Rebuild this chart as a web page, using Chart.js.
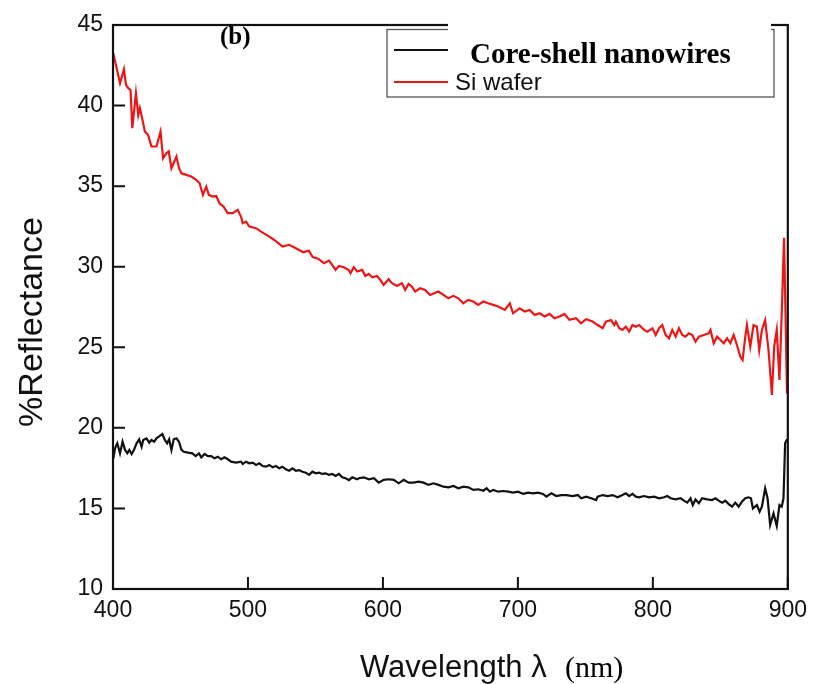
<!DOCTYPE html>
<html><head><meta charset="utf-8">
<script src="https://cdn.jsdelivr.net/npm/chart.js@4/dist/chart.umd.min.js"></script>
<style>html,body{margin:0;padding:0;background:#fff}canvas{display:block}</style>
</head><body>
<canvas id="c" width="815" height="684" style="width:815px;height:684px"></canvas>
<script>
const xTicks = [400, 500, 600, 700, 800, 900];
const yTicks = [10, 15, 20, 25, 30, 35, 40, 45];
const seriesNames = ['Core-shell nanowires', 'Si wafer'];
const panelLabel = '(b)';
const yTitle = '%Reflectance';
const xTitleMain = 'Wavelength \u03bb';
const xTitleUnit = '(nm)';

const redWl = [400.2,402.7,405.2,408.1,409.6,411.3,413.0,414.3,417.0,418.7,419.9,421.6,423.6,426.0,428.5,432.2,435.2,437.1,439.6,441.3,443.3,447.0,448.9,450.7,454.3,458.0,461.7,464.2,466.6,469.1,471.0,474.0,476.5,478.9,481.9,485.0,488.7,492.4,494.9,496.1,498.6,501.0,506.0,509.7,515.8,519.5,525.6,530.5,535.5,541.0,545.0,548.0,552.0,
556.3,560.0,562.4,564.9,567.4,571.0,574.7,576.0,578.4,580.9,584.6,587.0,589.5,592.0,595.6,598.1,600.5,604.2,606.7,610.4,614.1,616.5,619.0,621.4,623.9,627.6,631.3,635.0,641.1,644.8,648.5,652.2,655.9,659.5,663.2,666.9,670.6,674.3,678.0,681.7,685.4,690.3,694.0,696.4,701.3,705.0,708.7,712.4,716.1,719.8,723.5,727.1,730.8,734.5,738.2,743.1,746.8,750.5,755.4,
759.1,762.8,765.2,769.0,771.4,772.6,775.1,777.5,780.0,782.5,784.9,787.4,789.8,793.5,796.0,799.7,802.1,804.6,807.0,809.5,812.0,814.4,816.9,819.3,821.8,824.2,826.7,829.2,831.6,834.1,837.8,841.4,842.7,845.1,847.6,850.1,852.5,855.0,857.4,859.9,861.1,862.3,864.8,866.5,868.5,869.7,872.2,874.6,877.1,878.8,880.8,883.2,885.7,888.2,889.9,891.8,893.8,895.5,897.2,899.4];
const redR = [43.25,42.32,41.39,42.26,41.28,41.08,40.97,38.60,40.77,39.42,39.84,39.22,38.39,38.18,37.46,37.46,38.39,36.73,37.05,37.15,36.11,36.84,36.11,35.80,35.70,35.60,35.39,35.18,34.46,34.97,34.46,34.35,34.39,33.94,33.73,33.32,33.32,33.53,33.10,32.70,32.80,32.49,32.39,32.18,31.87,31.66,31.25,31.36,31.15,30.90,31.00,30.60,30.50,
30.22,30.38,30.11,29.80,30.05,29.97,29.80,29.60,29.97,29.70,29.80,29.43,29.55,29.35,29.43,29.18,28.87,29.22,28.98,28.81,28.98,28.56,28.93,28.77,28.46,28.66,28.56,28.25,28.46,28.25,28.04,28.19,28.04,27.73,27.94,27.84,27.63,27.84,27.73,27.63,27.53,27.32,27.73,27.11,27.42,27.22,27.32,27.01,27.11,26.91,27.07,26.80,26.91,27.07,26.70,26.80,26.49,26.74,26.60,
26.38,26.18,26.59,26.69,26.38,26.59,26.18,26.08,26.28,25.97,26.38,26.28,26.38,26.08,25.97,26.18,25.76,26.18,26.38,25.76,25.56,26.08,25.66,26.18,25.76,25.66,25.87,25.76,25.35,25.66,25.76,25.87,26.08,25.25,25.66,25.45,25.25,25.56,25.25,25.76,25.45,25.14,24.42,24.21,25.66,26.38,25.04,26.38,26.28,24.83,26.08,26.69,24.83,22.04,25.04,26.08,22.97,27.11,31.80,22.14];

const blackWl = [400.3,401.5,403.2,405.2,407.1,408.9,410.6,412.1,413.8,415.5,417.5,419.4,421.2,422.4,424.8,426.8,428.5,430.5,432.2,434.7,436.6,438.4,440.1,441.6,443.3,445.0,447.0,448.9,450.7,452.4,455.6,458.8,461.2,463.7,465.4,467.9,470.3,472.8,475.2,477.7,480.2,482.6,485.1,487.5,491.2,494.9,496.1,498.6,501.0,503.5,506.0,508.4,510.9,513.3,515.8,518.3,520.7,523.2,525.6,528.1,530.5,533.0,535.5,537.9,540.4,542.8,545.3,547.8,550.2,552.7,555.1,557.6,560.0,562.5,565.0,567.4,569.9,572.3,574.8,577.3,580.9,
582.2,585.9,589.6,593.3,596.9,600.6,604.3,608.0,611.7,615.4,619.1,622.7,626.4,630.1,633.8,637.5,641.2,644.9,648.6,652.3,655.9,659.6,663.3,667.0,670.7,674.4,676.8,679.3,681.7,685.4,689.1,692.8,696.5,700.2,703.9,707.6,711.2,714.9,718.6,721.1,724.8,728.5,732.1,735.8,740.7,744.4,746.9,750.6,754.3,757.9,
759.1,762.8,766.5,770.2,773.8,777.5,780.0,782.5,784.9,787.4,789.8,793.5,797.2,800.9,804.6,808.3,810.7,813.2,816.9,820.6,823.0,825.5,827.9,829.6,831.6,834.1,836.5,840.2,843.9,846.4,848.8,851.3,853.7,856.2,858.7,861.1,863.6,866.0,868.5,870.9,872.7,874.1,877.1,879.1,880.8,883.2,885.0,886.9,889.4,891.8,893.8,895.5,896.8,898.0,899.5];
const blackR = [18.11,18.73,19.04,18.42,19.14,18.63,18.42,18.63,18.38,18.63,19.04,19.29,18.83,19.25,19.35,19.08,19.25,19.14,19.35,19.50,19.62,19.25,19.04,19.29,18.63,19.29,19.35,19.14,18.63,18.52,18.46,18.42,18.25,18.42,18.17,18.38,18.25,18.25,18.11,18.21,18.05,18.17,18.05,17.90,17.84,17.90,17.76,17.90,17.80,17.84,17.70,17.80,17.63,17.59,17.70,17.55,17.63,17.49,17.59,17.43,17.34,17.49,17.34,17.38,17.28,17.22,17.08,17.28,17.18,17.22,17.14,17.18,17.08,17.14,17.01,17.14,16.93,16.87,16.76,16.93,16.81,
16.87,16.93,16.81,16.87,16.60,16.77,16.81,16.77,16.56,16.77,16.60,16.60,16.66,16.60,16.46,16.56,16.46,16.35,16.31,16.39,16.25,16.35,16.31,16.15,16.19,16.10,16.25,16.04,16.15,16.04,16.08,16.04,15.98,16.04,15.90,15.98,15.94,15.98,15.90,15.73,15.94,15.77,15.83,15.83,15.77,15.83,15.63,15.73,15.63,15.52,
15.73,15.83,15.77,15.83,15.69,15.83,15.94,15.77,15.90,15.73,15.69,15.77,15.69,15.73,15.63,15.69,15.77,15.63,15.56,15.63,15.48,15.36,15.63,15.21,15.56,15.32,15.63,15.56,15.52,15.63,15.48,15.36,15.48,15.27,15.11,15.36,15.11,15.42,15.63,15.69,15.63,15.00,15.21,14.80,15.11,16.25,15.63,13.97,14.69,13.91,15.21,15.11,15.63,19.04,19.30];

const SANS = '"Liberation Sans", Arial, sans-serif';
const SERIF = '"Liberation Serif", "Times New Roman", serif';
const RED = 'rgb(236,22,22)';
const BLK = '#111111';

const toPts = (xs, ys) => xs.map((x, i) => ({x: x, y: ys[i]}));

const decor = {
  id: 'decor',
  afterDraw(chart) {
    const ctx = chart.ctx, a = chart.chartArea;
    const xs = chart.scales.x, ys = chart.scales.y;
    ctx.save();
    ctx.strokeStyle = BLK; ctx.lineWidth = 2.2; ctx.lineCap = 'square';
    ctx.strokeRect(a.left, a.top, a.right - a.left, a.bottom - a.top);
    ctx.lineWidth = 2;
    ctx.beginPath();
    yTicks.forEach(v => { const p = ys.getPixelForValue(v); ctx.moveTo(a.left, p); ctx.lineTo(a.left + 11, p); });
    xTicks.forEach(v => { const p = xs.getPixelForValue(v); ctx.moveTo(p, a.bottom); ctx.lineTo(p, a.bottom - 11); });
    ctx.stroke();

    // legend box
    ctx.strokeStyle = '#555'; ctx.lineWidth = 1.3;
    ctx.strokeRect(387, 29.5, 387, 67.5);
    // pasted white patch
    ctx.fillStyle = '#fff';
    ctx.fillRect(448, 15, 323, 50);
    // legend samples
    ctx.lineWidth = 2.2; ctx.lineCap = 'butt';
    ctx.strokeStyle = BLK; ctx.beginPath(); ctx.moveTo(394, 50); ctx.lineTo(448, 50); ctx.stroke();
    ctx.strokeStyle = RED; ctx.beginPath(); ctx.moveTo(394, 82); ctx.lineTo(448, 82); ctx.stroke();
    ctx.fillStyle = '#000'; ctx.textBaseline = 'alphabetic'; ctx.textAlign = 'left';
    ctx.font = 'bold 29px ' + SERIF; ctx.fillText(seriesNames[0], 470, 63);
    ctx.font = '24px ' + SANS; ctx.fillStyle = '#111'; ctx.fillText(seriesNames[1], 455, 90);

    // panel label
    ctx.fillStyle = '#000';
    ctx.font = 'bold 25px ' + SERIF; ctx.fillText(panelLabel, 220, 44);

    // x title
    ctx.fillStyle = '#111';
    ctx.font = '31px ' + SANS; ctx.fillText(xTitleMain, 360, 677);
    ctx.fillStyle = '#000';
    ctx.font = '30px ' + SERIF; ctx.fillText(xTitleUnit, 565, 677);

    // y title
    ctx.save();
    ctx.translate(42, 322); ctx.rotate(-Math.PI / 2);
    ctx.textAlign = 'center'; ctx.fillStyle = '#111';
    ctx.font = '34px ' + SANS; ctx.fillText(yTitle, 0, 0);
    ctx.restore();
    ctx.restore();
  }
};

new Chart(document.getElementById('c').getContext('2d'), {
  type: 'line',
  data: { datasets: [
    { label: seriesNames[0], data: toPts(blackWl, blackR), borderColor: BLK, borderWidth: 2.2, pointRadius: 0, tension: 0, fill: false },
    { label: seriesNames[1], data: toPts(redWl, redR), borderColor: RED, borderWidth: 2.2, pointRadius: 0, tension: 0, fill: false }
  ]},
  options: {
    responsive: false, animation: false, devicePixelRatio: 1,
    layout: { padding: { left: 0, top: 25, right: 24, bottom: 0 } },
    plugins: { legend: { display: false }, tooltip: { enabled: false }, title: { display: false } },
    scales: {
      x: {
        type: 'linear', min: 400, max: 900,
        afterBuildTicks: s => { s.ticks = xTicks.map(v => ({ value: v })); },
        grid: { display: false, drawTicks: false }, border: { display: false },
        ticks: { color: '#111', font: { family: SANS, size: 23 }, padding: 8, maxRotation: 0, autoSkip: false },
        afterFit: s => { s.height = 95; }
      },
      y: {
        type: 'linear', min: 10, max: 45,
        afterBuildTicks: s => { s.ticks = yTicks.map(v => ({ value: v })); },
        grid: { display: false, drawTicks: false }, border: { display: false },
        ticks: { color: '#111', font: { family: SANS, size: 23 }, padding: 10, autoSkip: false },
        afterFit: s => { s.width = 113; }
      }
    }
  },
  plugins: [decor]
});
</script>
</body></html>
